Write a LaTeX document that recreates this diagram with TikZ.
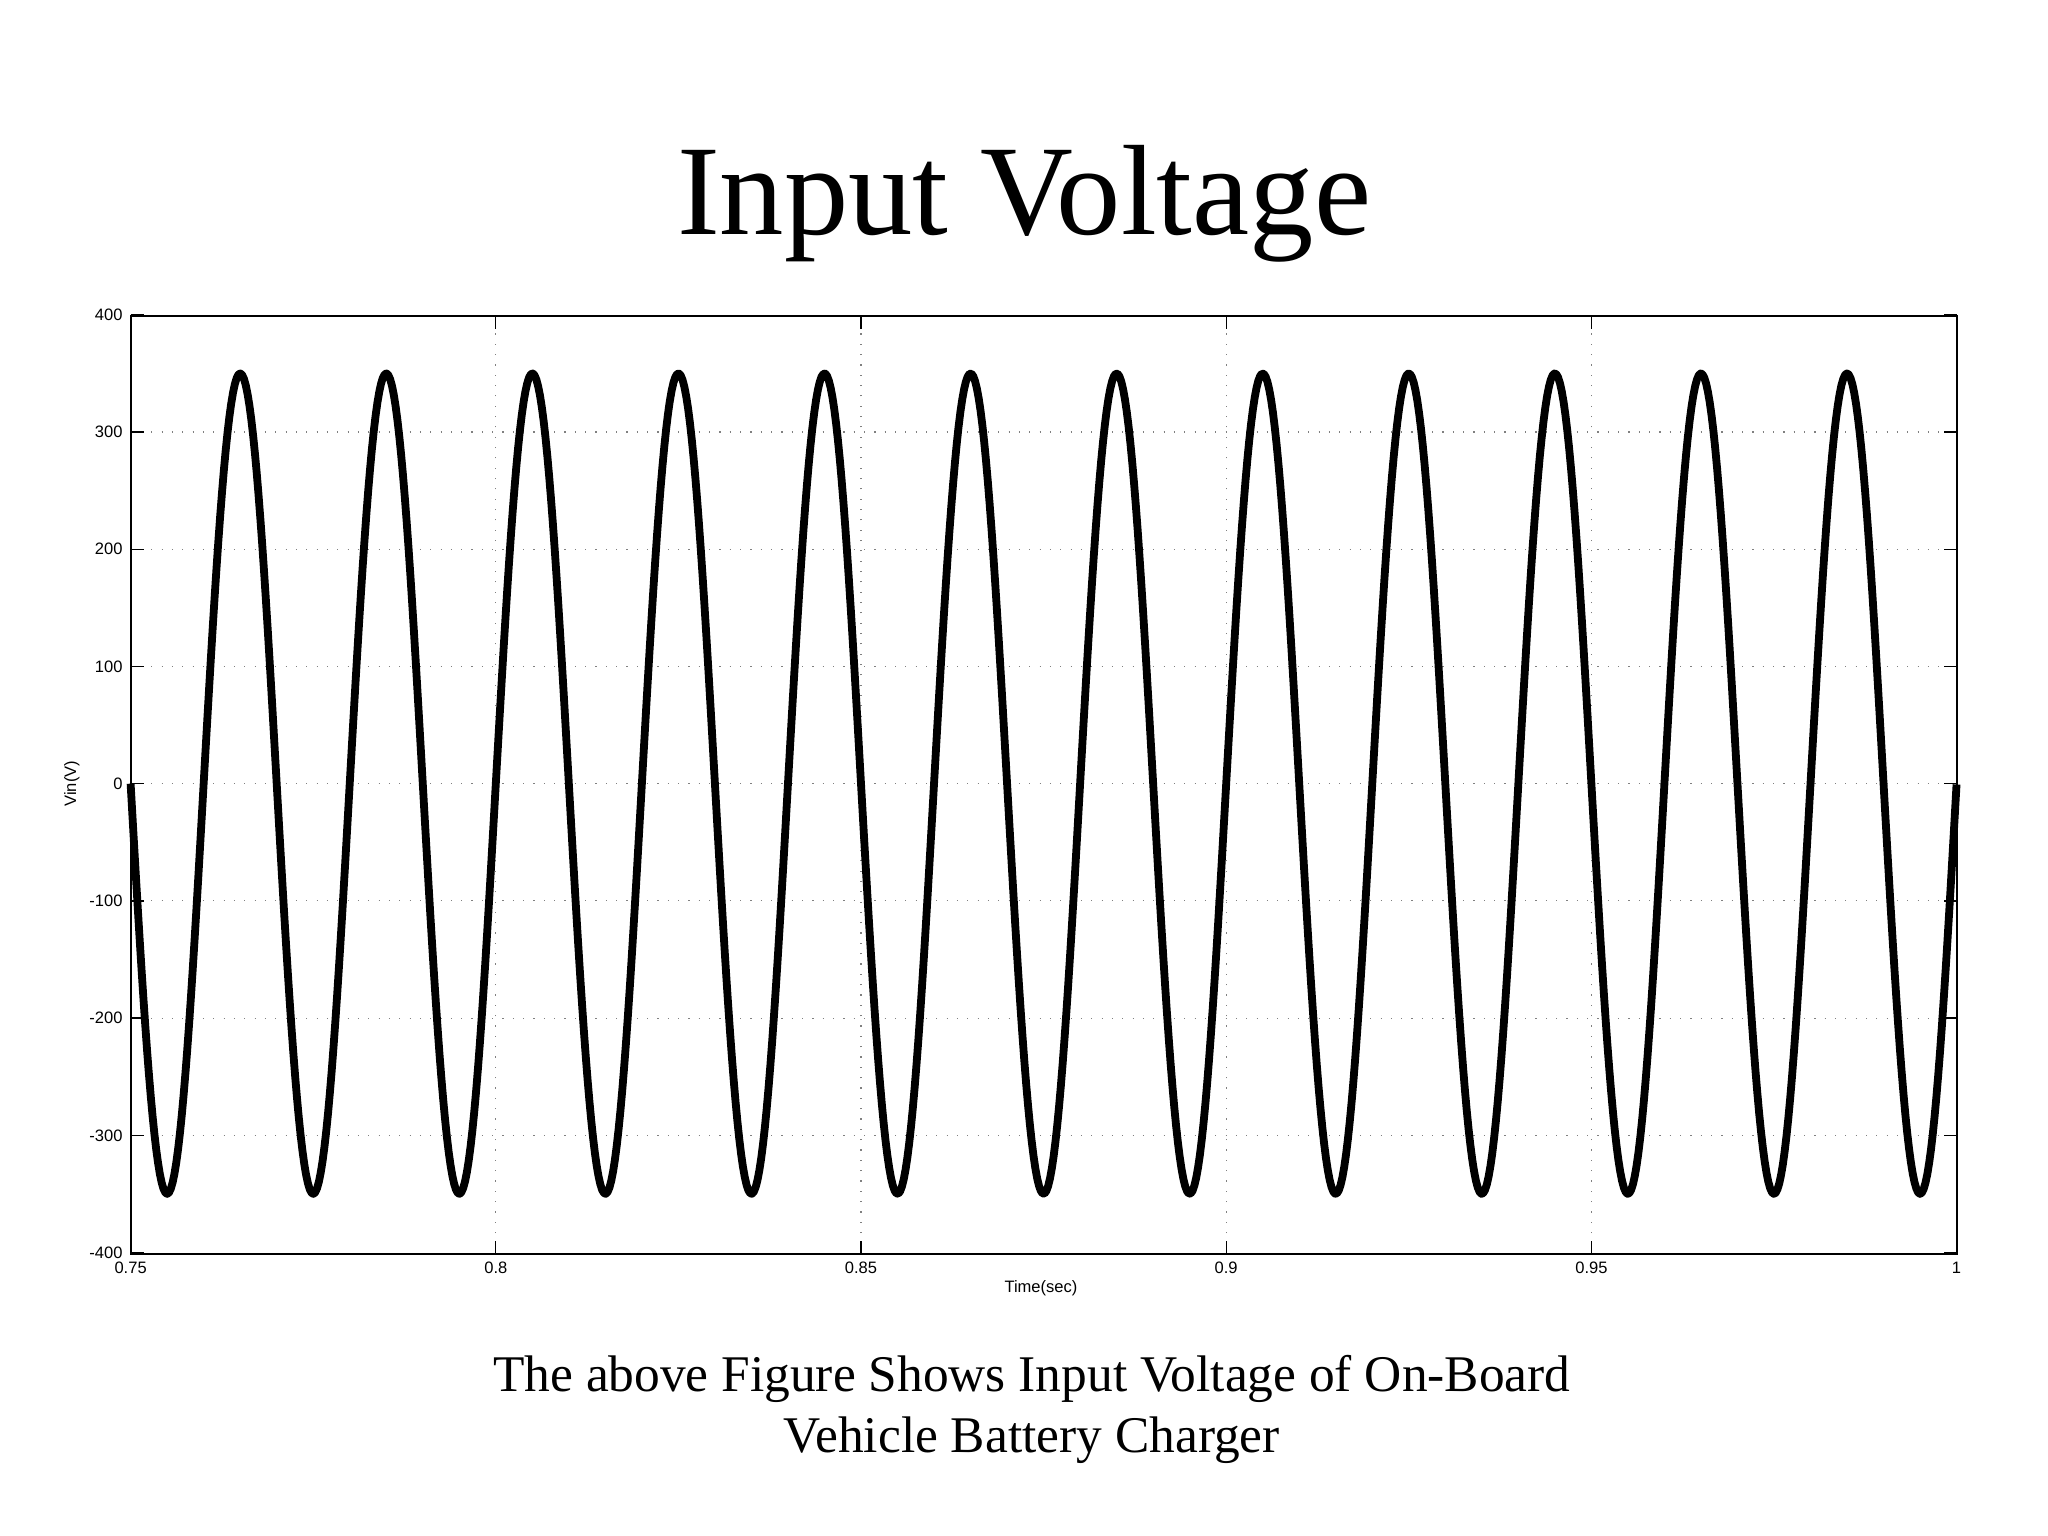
\documentclass[tikz,border=0pt]{standalone}
\usepackage{fontspec}
\setmainfont{Liberation Serif}
\newfontfamily\axfont{Liberation Sans}
\begin{document}
\begin{tikzpicture}[x=0.2845pt,y=0.2845pt,
  ticklab/.style={font=\axfont\fontsize{3.6pt}{4pt}\selectfont,inner sep=1pt},
  gridl/.style={gray,dotted,line width=0.25pt}]
\useasboundingbox[fill=white] (0,0) rectangle (1568,1176);
\foreach \i in {1,...,4}{
  \draw[gridl] ({100+\i*279.6},216) -- ({100+\i*279.6},934);}
\foreach \v in {-300,-200,...,300}{
  \draw[gridl] (100,{576+\v*0.8975}) -- (1498,{576+\v*0.8975});}
\draw[line width=1.7pt,domain=0:12.5,samples=1000,line join=round]
  plot ({100+\x*111.84},{576-314.1*sin(\x*360)});
\draw[line width=0.4pt] (100,216) rectangle (1498,934);
\foreach \i/\l in {0/0.75,1/0.8,2/0.85,3/0.9,4/0.95,5/1}{
  \draw[line width=0.3pt] ({100+\i*279.6},216) -- ++(0,10);
  \draw[line width=0.3pt] ({100+\i*279.6},934) -- ++(0,-10);
  \node[ticklab,anchor=north] (xt\i) at ({100+\i*279.6},214) {\l};}
\foreach \v in {-400,-300,...,400}{
  \draw[line width=0.3pt] (100,{576+\v*0.8975}) -- ++(10,0);
  \draw[line width=0.3pt] (1498,{576+\v*0.8975}) -- ++(-10,0);
  \node[ticklab,anchor=east] (yt\v) at (98,{576+\v*0.8975}) {\v};}
\node[ticklab] (xl) at (797,190) {Time(sec)};
\node[ticklab,rotate=90] (yl) at (55,576) {Vin(V)};
\node[font=\fontsize{28pt}{32pt}\selectfont] (title) at (784,1020) {Input Voltage};
\node[font=\fontsize{11.2pt}{13.4pt}\selectfont,align=center] (cap) at (790,97)
  {The above Figure Shows Input Voltage of On-Board\\Vehicle Battery Charger};
\end{tikzpicture}
\end{document}
